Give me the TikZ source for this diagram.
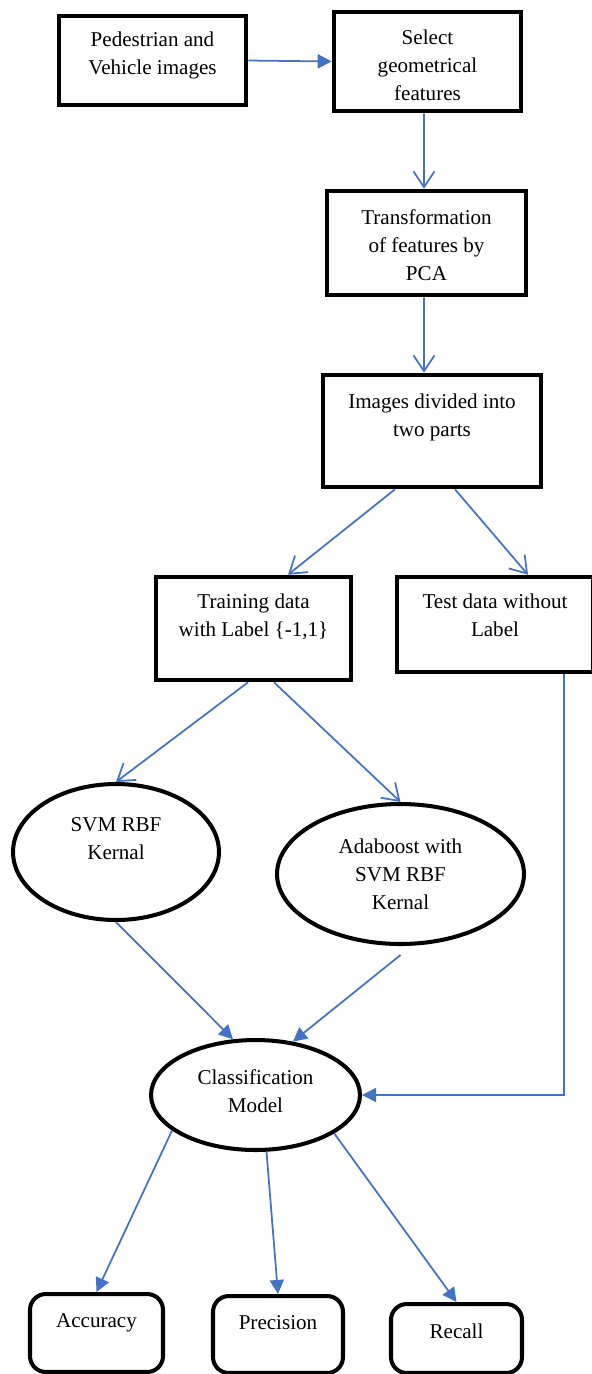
\documentclass[tikz,border=0pt]{standalone}
\usepackage{fontspec}
\setmainfont{Liberation Serif}
\usetikzlibrary{shapes.geometric,arrows.meta}
\definecolor{flowblue}{RGB}{68,114,196}
\tikzset{
  box/.style={draw, line width=2.6pt, inner sep=0pt},
  oval/.style={draw, ellipse, line width=2.3pt, inner sep=0pt},
  rbox/.style={draw, rounded corners=9pt, line width=2.3pt, inner sep=0pt},
  txt/.style={align=center, font=\fontsize{12}{15.9}\selectfont},
  vline/.style={flowblue, line width=1pt, -{Straight Barb[length=9pt,width=12pt]}},
  tline/.style={flowblue, line width=1pt, -{Triangle[length=8pt,width=8pt]}},
}
\begin{document}
\begin{tikzpicture}[x=0.02cm, y=-0.02cm]
        \useasboundingbox (0,0) rectangle (592,1374);
        % Draw the boxes
        \node[box, minimum width=3.74cm, minimum height=1.78cm,
          label={[txt, yshift=0.1cm]center:Pedestrian and\\Vehicle images}] (ped) at (152.5,60.5) {};
        \node[box, minimum width=3.74cm, minimum height=1.98cm,
          label={[txt, yshift=-0.07cm]center:Select\\geometrical\\features}] (sel) at (427.5,61.5) {};
        \node[box, minimum width=3.98cm, minimum height=2.08cm,
          label={[txt, yshift=-0.04cm]center:Transformation\\of features by\\PCA}] (trans) at (426.5,243) {};
        \node[box, minimum width=4.36cm, minimum height=2.24cm,
          label={[txt, yshift=0.28cm]center:Images divided into\\two parts}] (imgs) at (432,431) {};
        \node[box, minimum width=3.90cm, minimum height=2.06cm,
          label={[txt, yshift=0.24cm]center:Training data\\with Label \{-1,1\}}] (train) at (253.5,628.5) {};
        \node[box, minimum width=3.92cm, minimum height=1.90cm,
          label={[txt, yshift=0.19cm]center:Test data without\\Label}] (test) at (495,624.5) {};
        % Draw the ellipses
        \node[oval, minimum width=4.12cm, minimum height=2.72cm,
          label={[txt, yshift=0.26cm]center:SVM RBF\\Kernal}] (svm) at (116,852) {};
        \node[oval, minimum width=4.94cm, minimum height=2.80cm,
          label={[txt]center:Adaboost with\\SVM RBF\\Kernal}] (ada) at (400.5,874) {};
        \node[oval, minimum width=4.18cm, minimum height=2.20cm,
          label={[txt, yshift=0.08cm]center:Classification\\Model}] (clf) at (255.5,1095) {};
        % Draw the results
        \node[rbox, minimum width=2.66cm, minimum height=1.56cm,
          label={[txt, yshift=0.2cm]center:Accuracy}] (acc) at (96.5,1333) {};
        \node[rbox, minimum width=2.60cm, minimum height=1.54cm,
          label={[txt, yshift=0.23cm]center:Precision}] (prec) at (278,1334.5) {};
        \node[rbox, minimum width=2.62cm, minimum height=1.38cm,
          label={[txt, yshift=0.15cm]center:Recall}] (rec) at (456.5,1338.5) {};
        % Draw the arrows
        \draw[tline] (ped.east) -- (sel.west);
        \draw[vline] ([xshift=-0.07cm]sel.south) -- ([xshift=-0.05cm]trans.north);
        \draw[vline] ([xshift=-0.05cm]trans.south) -- ([xshift=-0.16cm]imgs.north);
        \draw[vline] ([xshift=-0.74cm]imgs.south) -- ([xshift=0.69cm]train.north);
        \draw[vline] ([xshift=0.46cm]imgs.south) -- ([xshift=0.66cm]test.north);
        \draw[vline] ([xshift=-0.11cm]train.south) -- (svm.north);
        \draw[vline] ([xshift=0.41cm]train.south) -- (ada.north);
        \draw[tline] (svm.south) -- (clf.112);
        \draw[tline] ([yshift=-0.18cm]ada.south) -- (clf.55);
        \draw[tline] ([xshift=1.38cm]test.south) |- (clf.east);
        \draw[tline] (clf.203) -- (acc.north);
        \draw[tline] (clf.281) -- (prec.north);
        \draw[tline] (clf.334) -- (rec.north);
    \end{tikzpicture}
\end{document}
